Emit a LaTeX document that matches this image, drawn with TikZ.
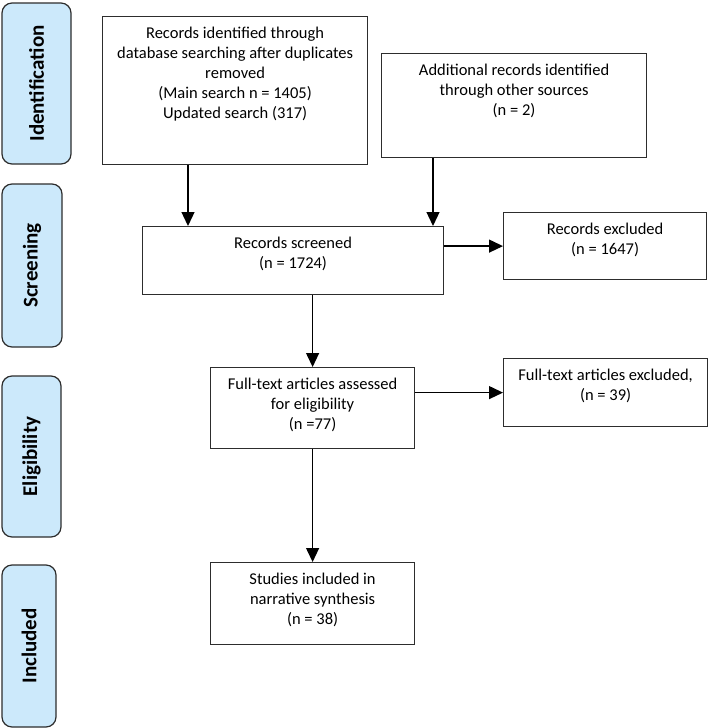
\documentclass[tikz,border=0pt]{standalone}
\usepackage{fontspec}
\setmainfont{Carlito}
\usetikzlibrary{arrows.meta}
\definecolor{phaseblue}{RGB}{204,233,251}
\definecolor{edgegrey}{RGB}{45,45,45}
\newcommand{\boxtext}[3]{\parbox[c][#2][t]{#1}{\centering\vspace*{10pt}#3}}

\begin{document}
\begin{tikzpicture}[x=1pt,y=-1pt,
		phase/.style={draw=edgegrey,fill=phaseblue,line width=1.2pt,rounded corners=10pt,rotate=90,font=\fontsize{21}{24}\selectfont\bfseries},
		flowbox/.style={draw=edgegrey,line width=1.2pt,inner sep=0pt,anchor=north west,font=\fontsize{16.5}{20}\selectfont},
		arr/.style={-{Triangle[width=13pt,length=14pt]},line width=1.3pt}]
		\useasboundingbox (0,0) rectangle (709,728);

		% phases on the left
		\node[phase,minimum width=161pt,minimum height=69pt] (identification) at (36.5,83.5) {Identification};
		\node[phase,minimum width=163pt,minimum height=60pt] (screening) at (32,265.5) {Screening};
		\node[phase,minimum width=161pt,minimum height=59pt] (eligibility) at (31.5,456.5) {Eligibility};
		\node[phase,minimum width=162pt,minimum height=54pt] (included) at (29,646) {Included};

		% flow boxes
		\node[flowbox] (records) at (102,16) {\boxtext{265pt}{148pt}{Records identified through\\database searching after duplicates\\removed\\(Main search n = 1405)\\Updated search (317)}};
		\node[flowbox] (additional) at (381,53) {\boxtext{265pt}{104pt}{Additional records identified\\through other sources\\(n = 2)}};
		\node[flowbox] (screened) at (142,226) {\boxtext{301pt}{68pt}{Records screened\\(n = 1724)}};
		\node[flowbox] (excluded) at (503,212) {\boxtext{203pt}{67pt}{Records excluded\\(n = 1647)}};
		\node[flowbox] (fulltext) at (210,367) {\boxtext{204pt}{81pt}{Full-text articles assessed\\for eligibility\\(n =77)}};
		\node[flowbox] (ftexcluded) at (503,358) {\boxtext{204pt}{68pt}{Full-text articles excluded,\\(n = 39)}};
		\node[flowbox] (studies) at (210,562) {\boxtext{204pt}{82pt}{Studies included in\\narrative synthesis\\(n = 38)}};

		% arrows
		\coordinate (leftdrop) at (188,0);
		\coordinate (rightdrop) at (433,0);
		\draw[arr] (records.south -| leftdrop) -- (screened.north -| leftdrop);
		\draw[arr] (additional.south -| rightdrop) -- (screened.north -| rightdrop);
		\draw[arr] (screened.east |- excluded.west) -- (excluded.west);
		\draw[arr] (screened.south -| fulltext.north) -- (fulltext.north);
		\draw[arr] (fulltext.east |- ftexcluded.west) -- (ftexcluded.west);
		\draw[arr] (fulltext.south) -- (studies.north);
	\end{tikzpicture}
\end{document}
